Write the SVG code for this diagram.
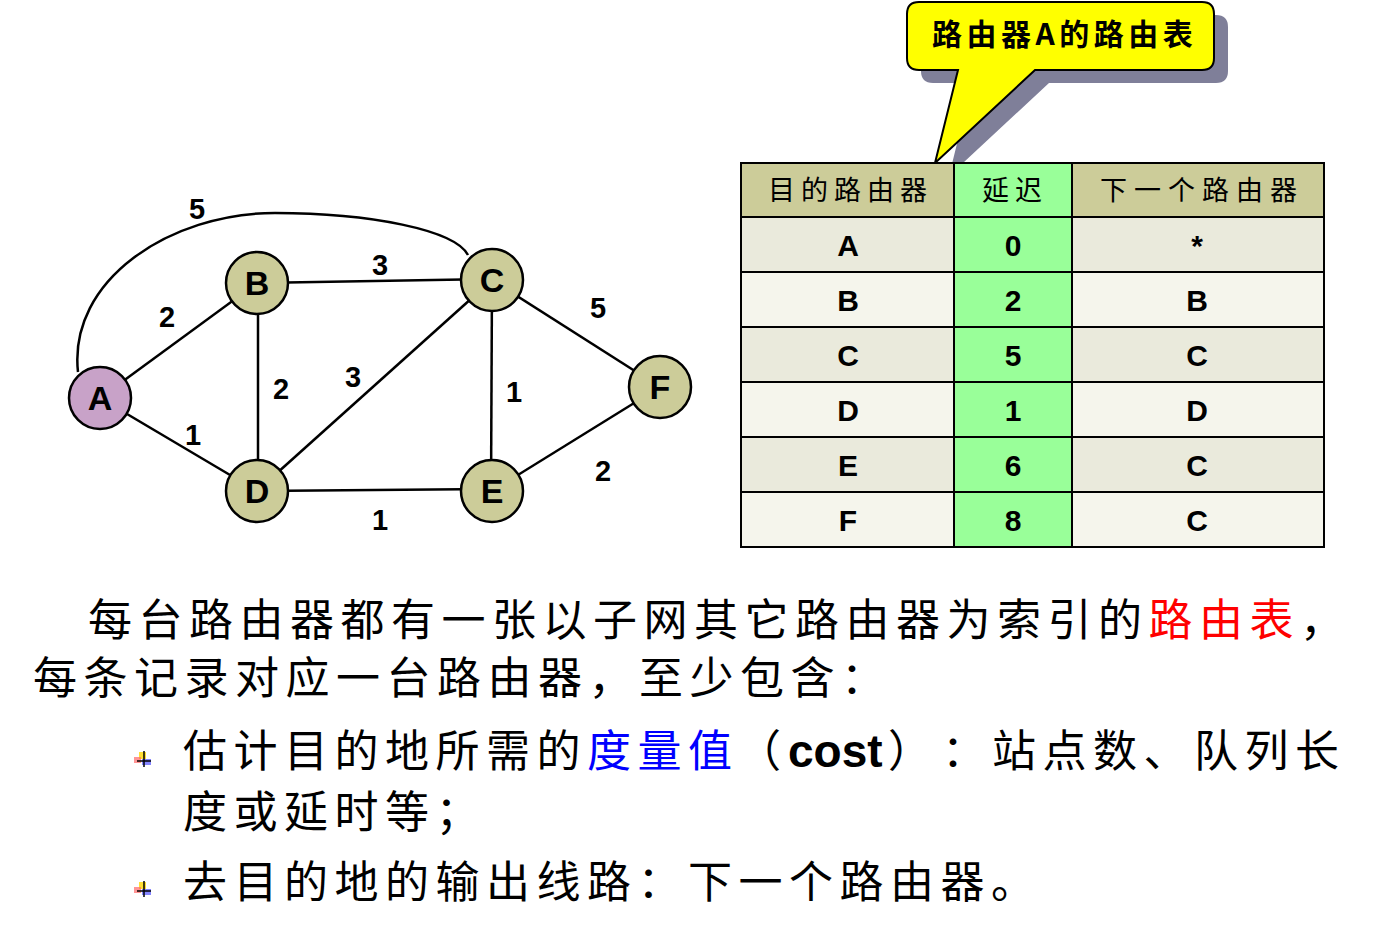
<svg xmlns="http://www.w3.org/2000/svg" width="1376" height="943" viewBox="0 0 1376 943">
<style>
.edge{stroke:#000;stroke-width:2.5;fill:none}
.node{stroke:#000;stroke-width:2.5;fill:#CCCC99}
.nl{font-family:"Liberation Sans",Arial,sans-serif;font-weight:bold;font-size:34px;text-anchor:middle;fill:#000}
.el{font-family:"Liberation Sans",Arial,sans-serif;font-weight:bold;font-size:29px;text-anchor:middle;fill:#000}
.cell{font-family:"Liberation Sans",Arial,sans-serif;font-weight:bold;font-size:30px;text-anchor:middle;fill:#000}
.hd{font-family:"Noto Sans CJK SC",sans-serif;font-size:27px;fill:#000}
.body{font-family:"Noto Sans CJK SC",sans-serif;font-size:44px;letter-spacing:6.5px;fill:#000}
.grid{stroke:#000;stroke-width:2;fill:none}
</style>
<defs>
<path id="callout" d="M919,2 H1202 Q1214,2 1214,14 V58 Q1214,70 1202,70 H1035 L935,163 L958,70 H919 Q907,70 907,58 V14 Q907,2 919,2 Z"/>
<g id="bullet">
<rect x="139" y="752" width="7" height="7" fill="#FFD700" opacity="0.8"/>
<rect x="134" y="757" width="7" height="6" fill="#FF6666" opacity="0.7"/>
<rect x="142" y="759" width="9" height="6" fill="#6666FF" opacity="0.8"/>
<line x1="144" y1="751" x2="144" y2="767" stroke="#000" stroke-width="1.5"/>
<line x1="137" y1="761" x2="151" y2="761" stroke="#000" stroke-width="1.5"/>
</g>
</defs>

<!-- callout -->
<g id="callout-label">
<use href="#callout" transform="translate(14,13)" fill="#7F7F99"/>
<use href="#callout" fill="#FFFF00" stroke="#000" stroke-width="2"/>
<text x="932" y="45" font-family="'Noto Sans CJK SC',sans-serif" font-weight="bold" font-size="30" letter-spacing="4.5">路由器A的路由表</text>
</g>

<!-- connectors -->
<g id="connectors">
<path class="edge" d="M78,372 C68,280 170,213 275,213 C370,213 455,230 468,255"/>
<line class="edge" x1="100" y1="398" x2="257" y2="283"/>
<line class="edge" x1="100" y1="398" x2="257" y2="491"/>
<line class="edge" x1="257" y1="283" x2="492" y2="279"/>
<line class="edge" x1="258" y1="283" x2="258" y2="491"/>
<line class="edge" x1="257" y1="491" x2="492" y2="280"/>
<line class="edge" x1="492" y1="280" x2="491" y2="491"/>
<line class="edge" x1="257" y1="491" x2="492" y2="489"/>
<line class="edge" x1="492" y1="280" x2="660" y2="387"/>
<line class="edge" x1="492" y1="491" x2="660" y2="387"/>
<text class="el" x="197" y="219">5</text>
<text class="el" x="380" y="275">3</text>
<text class="el" x="167" y="327">2</text>
<text class="el" x="281" y="399">2</text>
<text class="el" x="353" y="387">3</text>
<text class="el" x="193" y="445">1</text>
<text class="el" x="514" y="402">1</text>
<text class="el" x="598" y="318">5</text>
<text class="el" x="603" y="481">2</text>
<text class="el" x="380" y="530">1</text>
</g>

<!-- nodes -->
<g id="node-A"><circle class="node" cx="100" cy="398" r="31" style="fill:#C8A2C8"/><text class="nl" x="100" y="410">A</text></g>
<g id="node-B"><circle class="node" cx="257" cy="283" r="31"/><text class="nl" x="257" y="295">B</text></g>
<g id="node-C"><circle class="node" cx="492" cy="280" r="31"/><text class="nl" x="492" y="292">C</text></g>
<g id="node-D"><circle class="node" cx="257" cy="491" r="31"/><text class="nl" x="257" y="503">D</text></g>
<g id="node-E"><circle class="node" cx="492" cy="491" r="31"/><text class="nl" x="492" y="503">E</text></g>
<g id="node-F"><circle class="node" cx="660" cy="387" r="31"/><text class="nl" x="660" y="399">F</text></g>

<!-- table -->
<g id="routing-table">
<rect x="741" y="163" width="583" height="54" fill="#CCCC99"/>
<rect x="741" y="217" width="583" height="55" fill="#EAEADC"/>
<rect x="741" y="272" width="583" height="55" fill="#F5F5EC"/>
<rect x="741" y="327" width="583" height="55" fill="#EAEADC"/>
<rect x="741" y="382" width="583" height="55" fill="#F5F5EC"/>
<rect x="741" y="437" width="583" height="55" fill="#EAEADC"/>
<rect x="741" y="492" width="583" height="55" fill="#F5F5EC"/>
<rect x="954" y="163" width="118" height="384" fill="#99FF99"/>
<rect class="grid" x="741" y="163" width="583" height="384"/>
<line class="grid" x1="954" y1="163" x2="954" y2="547"/>
<line class="grid" x1="1072" y1="163" x2="1072" y2="547"/>
<line class="grid" x1="741" y1="217" x2="1324" y2="217"/>
<line class="grid" x1="741" y1="272" x2="1324" y2="272"/>
<line class="grid" x1="741" y1="327" x2="1324" y2="327"/>
<line class="grid" x1="741" y1="382" x2="1324" y2="382"/>
<line class="grid" x1="741" y1="437" x2="1324" y2="437"/>
<line class="grid" x1="741" y1="492" x2="1324" y2="492"/>
<text class="hd" x="768" y="200" letter-spacing="6">目的路由器</text>
<text class="hd" x="982" y="200" letter-spacing="6">延迟</text>
<text class="hd" x="1100" y="200" letter-spacing="7">下一个路由器</text>
<text class="cell" x="848" y="256">A</text><text class="cell" x="1013" y="256">0</text><text class="cell" x="1197" y="256">*</text>
<text class="cell" x="848" y="311">B</text><text class="cell" x="1013" y="311">2</text><text class="cell" x="1197" y="311">B</text>
<text class="cell" x="848" y="366">C</text><text class="cell" x="1013" y="366">5</text><text class="cell" x="1197" y="366">C</text>
<text class="cell" x="848" y="421">D</text><text class="cell" x="1013" y="421">1</text><text class="cell" x="1197" y="421">D</text>
<text class="cell" x="848" y="476">E</text><text class="cell" x="1013" y="476">6</text><text class="cell" x="1197" y="476">C</text>
<text class="cell" x="848" y="531">F</text><text class="cell" x="1013" y="531">8</text><text class="cell" x="1197" y="531">C</text>
</g>

<!-- body text -->
<g id="body-text">
<text class="body" x="88" y="636">每台路由器都有一张以子网其它路由器为索引的<tspan fill="#FF0000">路由表</tspan>，</text>
<text class="body" x="33" y="694">每条记录对应一台路由器，至少包含：</text>
<use href="#bullet"/>
<text class="body" y="767"><tspan x="183">估计目的地所需的</tspan><tspan fill="#0000FF">度量值</tspan><tspan x="737">（</tspan><tspan x="788" font-family="'Liberation Sans',Arial,sans-serif" font-weight="bold" font-size="46" letter-spacing="0">cost</tspan><tspan x="888">）</tspan><tspan x="942">：</tspan><tspan x="992">站点数、队列长</tspan></text>
<text class="body" x="183" y="828">度或延时等；</text>
<use href="#bullet" transform="translate(0,130)"/>
<text class="body" x="183" y="898">去目的地的输出线路：下一个路由器。</text>
</g>
</svg>
